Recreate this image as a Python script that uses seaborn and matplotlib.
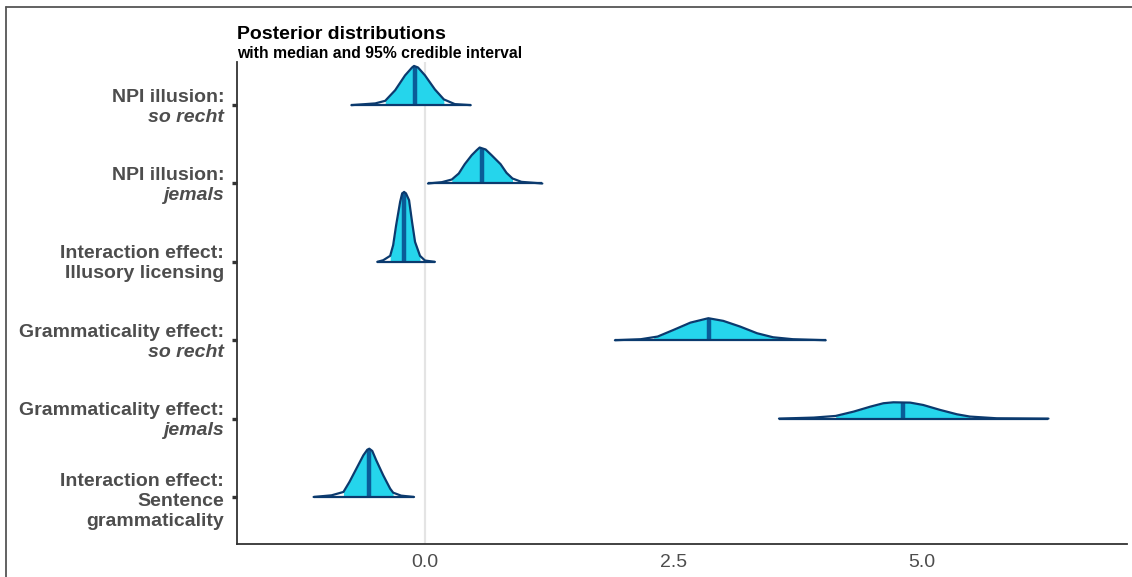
import numpy as np
import pandas as pd
import seaborn as sns
import matplotlib.pyplot as plt
from matplotlib.lines import Line2D

# parameters, listed top to bottom
label_lines = [
    ["NPI illusion:", "so recht"],
    ["NPI illusion:", "jemals"],
    ["Interaction effect:", "Illusory licensing"],
    ["Grammaticality effect:", "so recht"],
    ["Grammaticality effect:", "jemals"],
    ["Interaction effect:", "Sentence", "grammaticality"],
]
label_italic = [
    [False, True],
    [False, True],
    [False, False],
    [False, True],
    [False, True],
    [False, False, False],
]

medians = [-0.10, 0.57, -0.21, 2.86, 4.81, -0.56]
ci_low = [-0.40, 0.27, -0.35, 2.30, 4.13, -0.82]
ci_high = [0.19, 0.88, -0.05, 3.58, 5.48, -0.32]

# density outlines (x value, height in row units)
dens_x_npi_sorecht = [-0.74, -0.50, -0.40, -0.30, -0.20, -0.13, -0.11, -0.07, 0.00, 0.10, 0.19, 0.30, 0.46]
dens_h_npi_sorecht = [0.0, 0.022, 0.055, 0.19, 0.38, 0.48, 0.50, 0.48, 0.38, 0.20, 0.073, 0.013, 0.0]

dens_x_npi_jemals = [0.03, 0.17, 0.27, 0.34, 0.40, 0.47, 0.52, 0.55, 0.61, 0.67, 0.76, 0.82, 0.88, 0.97, 1.18]
dens_h_npi_jemals = [0.0, 0.017, 0.051, 0.128, 0.247, 0.361, 0.425, 0.459, 0.434, 0.361, 0.247, 0.136, 0.064, 0.021, 0.0]

dens_x_int_illusory = [-0.48, -0.42, -0.35, -0.32, -0.29, -0.25, -0.23, -0.21, -0.19, -0.16, -0.13, -0.10, -0.05, 0.00, 0.10]
dens_h_int_illusory = [0.0, 0.021, 0.077, 0.213, 0.468, 0.765, 0.871, 0.893, 0.871, 0.787, 0.510, 0.255, 0.077, 0.017, 0.0]

dens_x_gram_sorecht = [1.91, 2.17, 2.34, 2.50, 2.67, 2.85, 3.00, 3.17, 3.34, 3.50, 3.70, 4.03]
dens_h_gram_sorecht = [0.0, 0.013, 0.047, 0.132, 0.225, 0.281, 0.247, 0.174, 0.089, 0.038, 0.013, 0.0]

dens_x_gram_jemals = [3.56, 3.91, 4.13, 4.31, 4.48, 4.61, 4.71, 4.88, 5.01, 5.18, 5.35, 5.48, 5.75, 6.27]
dens_h_gram_jemals = [0.0, 0.013, 0.034, 0.089, 0.153, 0.196, 0.208, 0.204, 0.174, 0.111, 0.055, 0.026, 0.004, 0.0]

dens_x_int_gram = [-1.12, -0.94, -0.82, -0.76, -0.69, -0.62, -0.58, -0.56, -0.53, -0.49, -0.42, -0.35, -0.32, -0.24, -0.11]
dens_h_int_gram = [0.0, 0.021, 0.064, 0.191, 0.361, 0.531, 0.603, 0.616, 0.587, 0.468, 0.277, 0.106, 0.055, 0.017, 0.0]

dens_x = [dens_x_npi_sorecht, dens_x_npi_jemals, dens_x_int_illusory,
          dens_x_gram_sorecht, dens_x_gram_jemals, dens_x_int_gram]
dens_h = [dens_h_npi_sorecht, dens_h_npi_jemals, dens_h_int_illusory,
          dens_h_gram_sorecht, dens_h_gram_jemals, dens_h_int_gram]

fill_col = "#25d5ec"
line_col = "#0b3a6e"
median_col = "#0a5c98"
text_col = "#4d4d4d"

sns.set_theme(style="white")
plt.rcParams["font.family"] = ["Liberation Sans", "DejaVu Sans"]

fig = plt.figure(figsize=(11.32, 5.77), dpi=100)
ax = fig.add_axes([0.2094, 0.0572, 0.7862, 0.8353])

ax.axvline(0, color="#e4e4e4", lw=1.6, zorder=0)

n = len(label_lines)
for i in range(n):
    y0 = n - 1 - i
    x = np.array(dens_x[i])
    h = np.array(dens_h[i])
    # 95% interval fill
    inside = (x > ci_low[i]) & (x < ci_high[i])
    xs = np.concatenate([[ci_low[i]], x[inside], [ci_high[i]]])
    hs = np.interp(xs, x, h)
    ax.fill_between(xs, y0, y0 + hs, color=fill_col, lw=0, zorder=2)
    # median
    hm = np.interp(medians[i], x, h)
    ax.vlines(medians[i], y0, y0 + hm, color=median_col, lw=3.2, zorder=3)
    # outline
    df = pd.DataFrame({"x": x, "y": y0 + h})
    sns.lineplot(data=df, x="x", y="y", sort=False, estimator=None,
                 color=line_col, lw=1.6, ax=ax, zorder=4)
    ax.hlines(y0, x[0], x[-1], color=line_col, lw=1.6, zorder=4)

ax.set_xlim(-1.89, 7.06)
ax.set_ylim(-0.6, 5.55)
ax.set_xticks([0, 2.5, 5.0])
ax.set_xticklabels(["0.0", "2.5", "5.0"])
ax.set_yticks(list(range(n)))
ax.set_yticklabels([""] * n)
ax.set_xlabel("")
ax.set_ylabel("")

for side in ["top", "right"]:
    ax.spines[side].set_visible(False)
for side in ["left", "bottom"]:
    ax.spines[side].set_color("#333333")
    ax.spines[side].set_linewidth(1.3)

ax.tick_params(axis="x", length=0, pad=7, labelsize=14, labelcolor=text_col)
ax.tick_params(axis="y", left=True, length=3.5, width=2.4, color="#333333", pad=0)

# y labels with mixed bold / bold italic lines
line_step = 20
for i in range(n):
    y0 = n - 1 - i
    lines = label_lines[i]
    k = len(lines)
    shift = -2 if k == 2 else -5
    for j, txt in enumerate(lines):
        off = -(j - (k - 1) / 2) * line_step + shift
        ax.annotate(txt, xy=(0, y0), xycoords=ax.get_yaxis_transform(),
                    xytext=(-13, off), textcoords="offset pixels",
                    ha="right", va="center", fontsize=14, fontweight="bold",
                    fontstyle="italic" if label_italic[i][j] else "normal",
                    color=text_col)

fig.text(237 / 1132, 1 - 39 / 577, "Posterior distributions",
         fontsize=14, fontweight="bold", color="black", va="baseline")
fig.text(237 / 1132, 1 - 58 / 577, "with median and 95% credible interval",
         fontsize=11.3, fontweight="bold", color="black", va="baseline")

# screenshot frame
fig.add_artist(Line2D([0.0049, 0.0049], [0, 0.988], transform=fig.transFigure,
                      color="#555555", lw=1.3))
fig.add_artist(Line2D([0.0049, 1], [0.988, 0.988], transform=fig.transFigure,
                      color="#555555", lw=1.3))

fig.savefig("out.png", dpi=100)
